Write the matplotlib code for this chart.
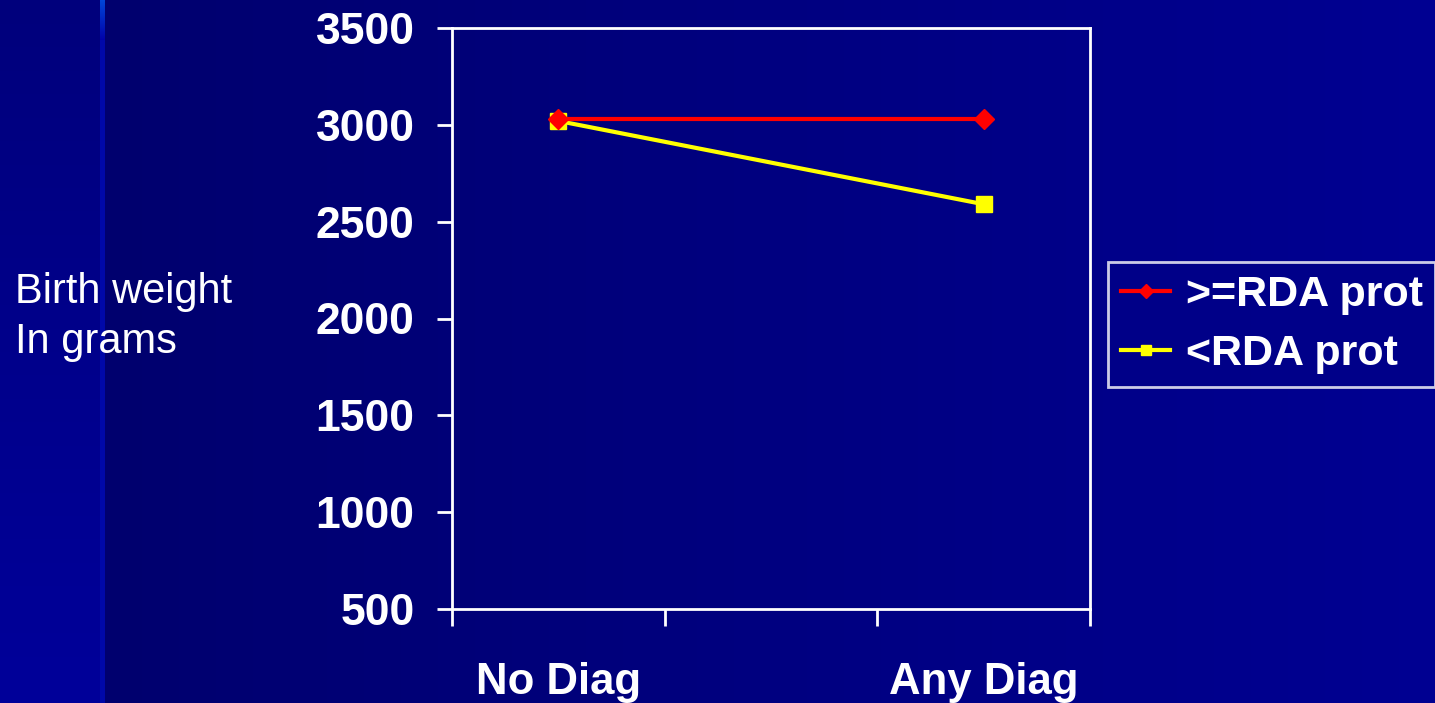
import numpy as np
import matplotlib
matplotlib.use("Agg")
import matplotlib.pyplot as plt
from matplotlib.lines import Line2D

# category slots on the x axis (middle slot is left empty)
categories = ["No Diag", "", "Any Diag"]
x_points = [0, 2]
ge_rda = [3030, 3030]     # >=RDA prot
lt_rda = [3020, 2590]     # <RDA prot
yticks = [500, 1000, 1500, 2000, 2500, 3000, 3500]

W, H = 1435, 703
fig = plt.figure(figsize=(W / 100, H / 100), dpi=100)
plt.rcParams['font.family'] = ['Liberation Sans', 'DejaVu Sans']

# slide background: navy panel with a brighter strip down the left side
bg = np.zeros((H, W, 3))
xs = np.arange(W)
blue = 0x6e + (0x92 - 0x6e) * np.clip((xs - 105) / (W - 105), 0, 1)
bg[:, :, 2] = blue[None, :] / 255
ys = np.arange(H)
strip = (0x7c + (0x9a - 0x7c) * ys / H) / 255
bg[:, :100, 2] = strip[:, None]
edge = np.where(ys < 40, 0xd8 - (0xd8 - 0xa8) * ys / 40, 0xa8) / 255
edge_g = np.where(ys < 40, 0x45 * (1 - ys / 40), 0x08) / 255
bg[:, 100:105, 2] = edge[:, None]
bg[:, 100:105, 1] = edge_g[:, None]
bga = fig.add_axes([0, 0, 1, 1])
bga.imshow(bg, aspect='auto', extent=[0, 1, 0, 1])
bga.axis('off')

ax = fig.add_axes([452 / W, 1 - 609 / H, (1090 - 452) / W, (609 - 28) / H])
ax.patch.set_alpha(0)

ax.plot(x_points, ge_rda, color='#ff0000', lw=3, marker='D', ms=10,
        label='>=RDA prot', zorder=3)
ax.plot(x_points, lt_rda, color='#ffff00', lw=3, marker='s', ms=11,
        label='<RDA prot', zorder=2)

ax.set_xlim(-0.5, 2.5)
ax.set_ylim(500, 3500)
ax.set_yticks(yticks)
ax.set_yticklabels([str(v) for v in yticks], fontsize=32, fontweight='bold',
                   color='white')
ax.tick_params(axis='y', length=11, width=2, color='white', pad=16)

# tick marks at slot boundaries, labels at slot centres
ax.set_xticks([-0.5, 0.5, 1.5, 2.5])
ax.set_xticklabels([])
ax.tick_params(axis='x', which='major', length=12, width=2, color='white')
ax.set_xticks(range(len(categories)), minor=True)
ax.set_xticklabels(categories, minor=True, fontsize=31.5, fontweight='bold',
                   color='white')
ax.tick_params(axis='x', which='minor', length=0, pad=38)

for s in ax.spines.values():
    s.set_color('white')
    s.set_linewidth(2)

fig.text(15 / W, 1 - 272 / H, "Birth weight\nIn grams", fontsize=30,
         color='white', va='top', ha='left', linespacing=1.32)

handles = [
    Line2D([], [], color='#ff0000', lw=3, marker='D', ms=7),
    Line2D([], [], color='#ffff00', lw=3, marker='s', ms=7),
]
leg = fig.legend(handles, ['>=RDA prot', '<RDA prot'], loc='upper left',
                 bbox_to_anchor=(1108 / W, 1 - 262 / H), frameon=True,
                 fancybox=False, prop={'size': 31, 'weight': 'bold'},
                 labelcolor='white', handlelength=1.15, handletextpad=0.35,
                 labelspacing=0.45, borderpad=0.3, borderaxespad=0)
leg.get_frame().set_facecolor('#000088')
leg.get_frame().set_edgecolor('white')
leg.get_frame().set_linewidth(2)

fig.savefig("out.png", dpi=100)
